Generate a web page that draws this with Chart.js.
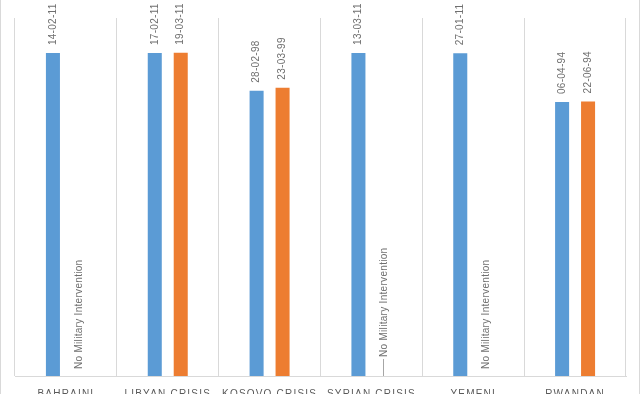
<!DOCTYPE html>
<html>
<head>
<meta charset="utf-8">
<script src="https://cdn.jsdelivr.net/npm/chart.js@4.4.1/dist/chart.umd.min.js"></script>
<style>
  body { margin: 0; background: #fff; }
  #wrap { width: 640px; height: 394px; overflow: hidden; }
</style>
</head>
<body>
<div id="wrap"><canvas id="crisisChart" width="640" height="414"></canvas></div>
<script>
// categories and values (dates stored as Excel day serials, labels as shown)
const categories = ['BAHRAINI', 'LIBYAN CRISIS', 'KOSOVO CRISIS', 'SYRIAN CRISIS', 'YEMENI', 'RWANDAN'];
const crisisValues = [40588, 40591, 35854, 40615, 40570, 34430];
const crisisLabels = ['14-02-11', '17-02-11', '28-02-98', '13-03-11', '27-01-11', '06-04-94'];
const interventionValues = [null, 40621, 36242, null, null, 34507];
const interventionLabels = [null, '19-03-11', '23-03-99', null, null, '22-06-94'];
const noInterventionText = 'No Military Intervention';
const axisMax = 45000;

const labelColor = '#6f6f6f';
const gridColor = '#d9d9d9';

// draws the rotated date labels and the "no intervention" notes
const barLabels = {
    id: 'barLabels',
    beforeDraw(chart) {
        chart.ctx.letterSpacing = '1.2px';
    },
    beforeDatasetsDraw(chart) {
        chart.ctx.letterSpacing = '0px';
    },
    afterDatasetsDraw(chart) {
        const ctx = chart.ctx;
        const base = chart.scales.y.getPixelForValue(0);
        const labelSets = [crisisLabels, interventionLabels];
        ctx.save();
        ctx.font = '10px "Liberation Sans", Arial, sans-serif';
        ctx.letterSpacing = '0.3px';
        ctx.fillStyle = labelColor;
        ctx.textBaseline = 'middle';
        chart.data.datasets.forEach((ds, d) => {
            const meta = chart.getDatasetMeta(d);
            meta.data.forEach((bar, i) => {
                ctx.save();
                if (ds.data[i] != null) {
                    ctx.translate(bar.x, bar.y - 8);
                    ctx.rotate(-Math.PI / 2);
                    ctx.textAlign = 'left';
                    ctx.fillText(labelSets[d][i], 0, 0);
                } else {
                    // Syrian note sits a bit higher with a leader line
                    const lift = i === 3 ? 19 : 7;
                    if (i === 3) {
                        ctx.strokeStyle = '#a6a6a6';
                        ctx.lineWidth = 1;
                        ctx.beginPath();
                        ctx.moveTo(Math.round(bar.x) - 0.5, base - lift + 2);
                        ctx.lineTo(Math.round(bar.x) - 0.5, base);
                        ctx.stroke();
                    }
                    ctx.translate(bar.x, base - lift);
                    ctx.rotate(-Math.PI / 2);
                    ctx.textAlign = 'left';
                    ctx.fillText(noInterventionText, 0, 0);
                }
                ctx.restore();
            });
        });
        // chart area frame
        ctx.strokeStyle = gridColor;
        ctx.beginPath();
        ctx.moveTo(0.5, 0); ctx.lineTo(0.5, chart.height);
        ctx.moveTo(639.5, 0); ctx.lineTo(639.5, chart.height);
        ctx.stroke();
        ctx.restore();
    }
};

const ctx = document.getElementById('crisisChart').getContext('2d');
const crisisChart = new Chart(ctx, {
    type: 'bar',
    data: {
        labels: categories,
        datasets: [{
            label: 'Crisis start',
            data: crisisValues,
            backgroundColor: '#5B9BD5',
            borderWidth: 0
        }, {
            label: 'Military intervention',
            data: interventionValues,
            backgroundColor: '#ED7D31',
            borderWidth: 0
        }]
    },
    options: {
        responsive: false,
        animation: false,
        categoryPercentage: 0.51,
        barPercentage: 0.54,
        layout: {
            padding: { top: 18, left: 15, right: 14, bottom: 2 }
        },
        plugins: {
            legend: { display: false },
            tooltip: { enabled: false }
        },
        scales: {
            x: {
                grid: { color: gridColor, drawTicks: false, offset: true },
                border: { color: gridColor },
                ticks: {
                    color: '#595959',
                    padding: 12,
                    maxRotation: 0,
                    autoSkip: false,
                    font: { family: '"Liberation Sans", Arial, sans-serif', size: 10 }
                }
            },
            y: {
                display: false,
                min: 0,
                max: axisMax
            }
        }
    },
    plugins: [barLabels]
});
</script>
</body>
</html>
